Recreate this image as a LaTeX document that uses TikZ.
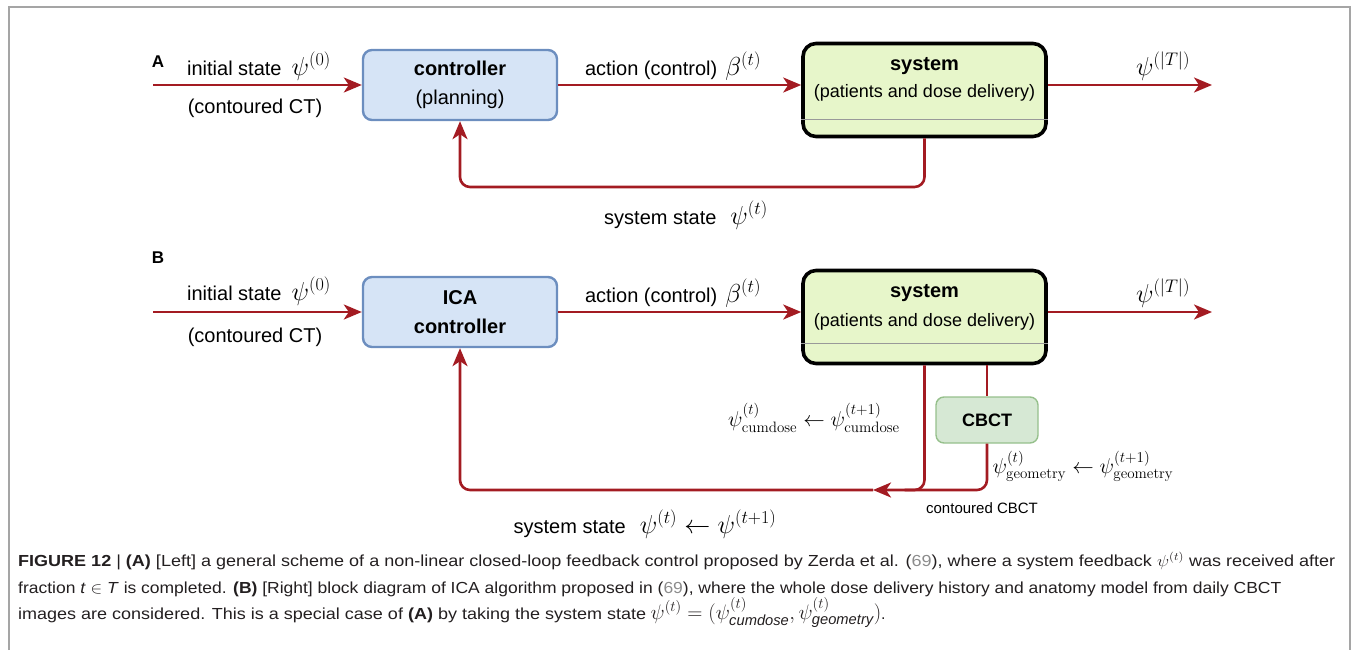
\RequirePackage{fix-cm}
\documentclass[tikz,border=0pt]{standalone}
\usepackage{amsmath}
\usepackage[no-math]{fontspec}
\setmainfont{Liberation Sans}
\usepackage{graphicx}
\usetikzlibrary{arrows.meta}
\definecolor{flowred}{RGB}{163,27,34}
\definecolor{ctrlfill}{RGB}{214,228,246}
\definecolor{ctrlborder}{RGB}{108,142,191}
\definecolor{sysfill}{RGB}{231,246,202}
\definecolor{cbctfill}{RGB}{214,232,212}
\definecolor{cbctborder}{RGB}{150,192,140}
\definecolor{framegray}{RGB}{165,165,165}
\definecolor{refgray}{RGB}{140,140,140}
\definecolor{captext}{RGB}{35,31,32}
\newcommand{\bigmath}[1]{{\fontsize{26}{30}\selectfont$#1$}}
\newcommand{\midmath}[1]{{\fontsize{21.5}{26}\selectfont$#1$}}
\tikzset{
  flow/.style={draw=flowred, line width=2.6pt, rounded corners=10pt},
  arr/.style={flow, -{Stealth[length=18pt,width=15pt,inset=5pt]}},
  ctrlbox/.style={draw=ctrlborder, fill=ctrlfill, line width=2.4pt, rounded corners=9pt,
    minimum width=194pt, minimum height=70pt, inner sep=0pt, align=center,
    font=\bfseries\fontsize{20}{29}\selectfont},
  sysbox/.style={draw=black, fill=sysfill, line width=3.6pt, rounded corners=13pt,
    minimum width=243pt, minimum height=93pt, inner sep=0pt},
  cbctbox/.style={draw=cbctborder, fill=cbctfill, line width=1.4pt, rounded corners=8pt,
    minimum width=102pt, minimum height=46pt, font=\bfseries\fontsize{18}{20}\selectfont},
  lbl/.style={font=\fontsize{20}{24}\selectfont, inner sep=0pt},
  small/.style={font=\fontsize{18}{22}\selectfont, inner sep=0pt},
  panel/.style={font=\bfseries\fontsize{17}{20}\selectfont, inner sep=0pt},
  capline/.style={font=\fontsize{16}{19}\selectfont, text=captext, inner sep=0pt, anchor=base west},
  divider/.style={draw=gray!80, line width=0.8pt}
}
\begin{document}
\begin{tikzpicture}[x=1pt, y=-1pt]
  \useasboundingbox (0,0) rectangle (1356,650);
  \draw[framegray, line width=1.2pt] (9,650) -- (9,7) -- (1350,7) -- (1350,650);

  % panel A
  \node[panel] (labA) at (158,62) {A};
  \coordinate (inA) at (153,85);
  \coordinate (outA) at (1212,85);
  \coordinate (fbA) at (0,187);
  \node[ctrlbox] (ctrlA) at (460,85) {controller\\\mdseries(planning)};
  \node[sysbox] (sysA) at (924.5,90) {};
  \draw[divider] ([yshift=19pt]sysA.south west) -- ([yshift=19pt]sysA.south east);
  \node[lbl, font=\bfseries\fontsize{20}{24}\selectfont] (sysAtop) at (924.5,66) {system};
  \node[small] (sysAsub) at (924.5,93) {(patients and dose delivery)};
  \node[lbl] (initA) at (259,66) {initial state\hspace{10pt}\bigmath{\psi^{(0)}}};
  \node[lbl] (ctA) at (255,108) {(contoured CT)};
  \node[lbl] (actA) at (673,66) {action (control)\hspace{8pt}\bigmath{\beta^{(t)}}};
  \node[lbl] (finA) at (1163,66) {\bigmath{\psi^{(|T|)}}};
  \node[lbl] (stA) at (686,215) {system state\hspace{14pt}\bigmath{\psi^{(t)}}};
  \draw[arr] (inA) -- (ctrlA.west);
  \draw[arr] (ctrlA.east) -- (ctrlA.east -| sysA.west);
  \draw[arr] (ctrlA.east -| sysA.east) -- (outA);
  \draw[arr] (sysA.south) -- (sysA.south |- fbA) -- (ctrlA.south |- fbA) -- (ctrlA.south);

  % panel B
  \node[panel] (labB) at (158,258) {B};
  \coordinate (inB) at (153,312);
  \coordinate (outB) at (1212,312);
  \coordinate (fbB) at (0,490);
  \coordinate (tipB) at (873,490);
  \node[ctrlbox] (ctrlB) at (460,312) {ICA\\controller};
  \node[sysbox] (sysB) at (924.5,317) {};
  \draw[divider] ([yshift=22pt]sysB.south west) -- ([yshift=22pt]sysB.south east);
  \node[lbl, font=\bfseries\fontsize{20}{24}\selectfont] (sysBtop) at (924.5,293) {system};
  \node[small] (sysBsub) at (924.5,322) {(patients and dose delivery)};
  \node[cbctbox] (cbct) at (987,420) {CBCT};
  \node[lbl] (initB) at (259,291) {initial state\hspace{10pt}\bigmath{\psi^{(0)}}};
  \node[lbl] (ctB) at (255,337) {(contoured CT)};
  \node[lbl] (actB) at (673,293) {action (control)\hspace{8pt}\bigmath{\beta^{(t)}}};
  \node[lbl] (finB) at (1163,293) {\bigmath{\psi^{(|T|)}}};
  \node[lbl] (cumB) at (814,418) {\midmath{\psi^{(t)}_{\mathrm{cumdose}} \leftarrow \psi^{(t+1)}_{\mathrm{cumdose}}}};
  \node[lbl] (geoB) at (1083,466) {\midmath{\psi^{(t)}_{\mathrm{geometry}} \leftarrow \psi^{(t+1)}_{\mathrm{geometry}}}};
  \node[font=\fontsize{15}{18}\selectfont, inner sep=0pt] (ccB) at (982,508) {contoured CBCT};
  \node[lbl] (stB) at (645,524) {system state\hspace{14pt}\bigmath{\psi^{(t)} \leftarrow \psi^{(t+1)}}};
  \draw[arr] (inB) -- (ctrlB.west);
  \draw[arr] (ctrlB.east) -- (ctrlB.east -| sysB.west);
  \draw[arr] (ctrlB.east -| sysB.east) -- (outB);
  \draw[flow] (sysB.south) -- (sysB.south |- fbB) -- ([xshift=-20pt]sysB.south |- fbB);
  \draw[flow] (cbct.north |- sysB.south) -- (cbct.north);
  \draw[arr] (cbct.south) -- (cbct.south |- fbB) -- (tipB);
  \draw[arr] (tipB) -- (ctrlB.south |- fbB) -- (ctrlB.south);

  % caption
  \node[capline] (cap1) at (18,566) {\resizebox{1317pt}{\height}{\textbf{FIGURE 12} | \textbf{(A)} [Left] a general scheme of a non-linear closed-loop feedback control proposed by Zerda et al. ({\color{refgray}69}), where a system feedback $\psi^{(t)}$ was received after}};
  \node[capline] (cap2) at (18,593) {\resizebox{1263pt}{\height}{fraction \textit{t} $\in$ \textit{T} is completed. \textbf{(B)} [Right] block diagram of ICA algorithm proposed in ({\color{refgray}69}), where the whole dose delivery history and anatomy model from daily CBCT}};
  \node[capline] (cap3) at (18,619) {\resizebox{628pt}{\height}{images are considered. This is a special case of \textbf{(A)} by taking the system state} {\fontsize{21}{25}\selectfont$\psi^{(t)} = (\psi^{(t)}_{\textit{cumdose}}, \psi^{(t)}_{\textit{geometry}})$}.};
\end{tikzpicture}
\end{document}
